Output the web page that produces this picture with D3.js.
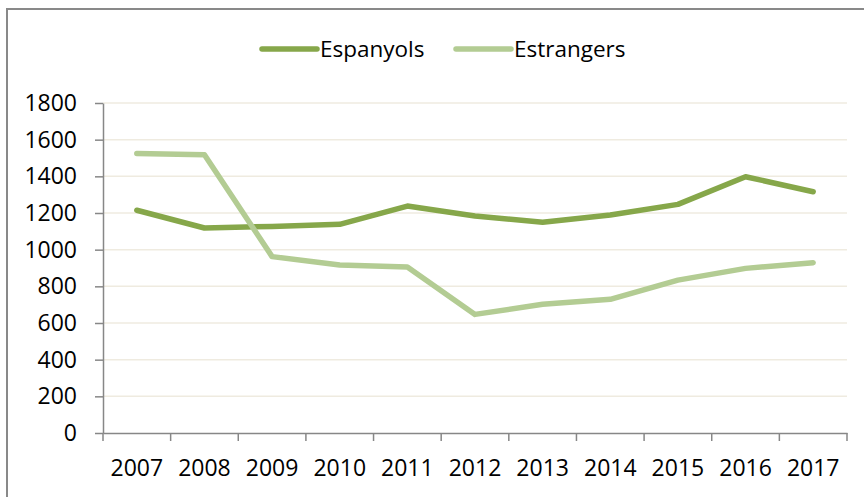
<!DOCTYPE html>
<html>
<head>
<meta charset="utf-8">
<script src="https://cdn.jsdelivr.net/npm/d3@7"></script>
<style>
  body { margin: 0; background: #fff; }
  svg { display: block; font-family: "Open Sans", sans-serif; }
</style>
</head>
<body>
<script>
// Data
var years = ["2007","2008","2009","2010","2011","2012","2013","2014","2015","2016","2017"];
var espanyols = [1215, 1118, 1127, 1138, 1238, 1184, 1149, 1189, 1247, 1398, 1316];
var estrangers = [1525, 1518, 962, 916, 906, 647, 702, 729, 834, 898, 929];
var seriesNames = ["Espanyols", "Estrangers"];
var seriesColors = ["#86a74a", "#b3cc93"];
var yTicks = [0, 200, 400, 600, 800, 1000, 1200, 1400, 1600, 1800];

var width = 864,
    height = 497;
var margin = {left: 103, right: 17, top: 103, bottom: 64};

var svg = d3.select("body").append("svg")
    .attr("width", width)
    .attr("height", height);

// outer frame (right/bottom run off the picture)
svg.append("rect")
    .attr("x", 7).attr("y", 9)
    .attr("width", 900).attr("height", 600)
    .attr("fill", "none")
    .attr("stroke", "#898989")
    .attr("stroke-width", 2);

var x = d3.scaleBand()
    .domain(years)
    .range([margin.left, width - margin.right])
    .padding(0);

var y = d3.scaleLinear()
    .domain([0, 1800])
    .range([height - margin.bottom, margin.top]);

// gridlines
svg.append("g")
  .selectAll("line")
  .data(yTicks.filter(function(d) { return d > 0; }))
  .enter().append("line")
    .attr("x1", margin.left)
    .attr("x2", width - margin.right)
    .attr("y1", function(d) { return y(d); })
    .attr("y2", function(d) { return y(d); })
    .attr("stroke", "#efebe0")
    .attr("stroke-width", 1.5);

// y axis
var yAxis = svg.append("g")
    .attr("transform", "translate(" + margin.left + ",0)")
    .call(d3.axisLeft(y).tickValues(yTicks).tickFormat(d3.format("d"))
      .tickSize(8).tickPadding(18).tickSizeOuter(0));

// x axis labels
var xAxis = svg.append("g")
    .attr("transform", "translate(0," + y(0) + ")")
    .call(d3.axisBottom(x).tickSize(0).tickPadding(27).tickSizeOuter(0));

// x tick marks at category boundaries
var lastEdge = x(years[years.length - 1]) + x.bandwidth();
svg.append("g")
  .selectAll("line")
  .data(years.map(function(d) { return x(d); }).concat([lastEdge]))
  .enter().append("line")
    .attr("x1", function(d) { return d; })
    .attr("x2", function(d) { return d; })
    .attr("y1", y(0))
    .attr("y2", y(0) + 8)
    .attr("stroke", "#878787")
    .attr("stroke-width", 1.5);

[yAxis, xAxis].forEach(function(a) {
  a.select(".domain").attr("stroke", "#878787").attr("stroke-width", 1.5);
  a.selectAll(".tick line").attr("stroke", "#878787").attr("stroke-width", 1.5);
  a.selectAll(".tick text")
    .attr("fill", "#000")
    .style("font-size", "23px")
    .style("font-family", "'Open Sans', sans-serif");
});

// lines
var line = d3.line()
    .x(function(d, i) { return x(years[i]) + x.bandwidth() / 2; })
    .y(function(d) { return y(d); });

[espanyols, estrangers].forEach(function(vals, k) {
  svg.append("path")
    .datum(vals)
    .attr("d", line)
    .attr("fill", "none")
    .attr("stroke", seriesColors[k])
    .attr("stroke-width", 5.5)
    .attr("stroke-linecap", "round")
    .attr("stroke-linejoin", "round");
});

// legend
var legendX = [262, 456];
var legend = svg.append("g");
seriesNames.forEach(function(name, k) {
  legend.append("line")
    .attr("x1", legendX[k]).attr("x2", legendX[k] + 55)
    .attr("y1", 49).attr("y2", 49)
    .attr("stroke", seriesColors[k])
    .attr("stroke-width", 5.5)
    .attr("stroke-linecap", "round");
  legend.append("text")
    .attr("x", legendX[k] + 58)
    .attr("y", 49)
    .attr("dy", "0.35em")
    .style("font-size", "22.5px")
    .text(name);
});
</script>
</body>
</html>
